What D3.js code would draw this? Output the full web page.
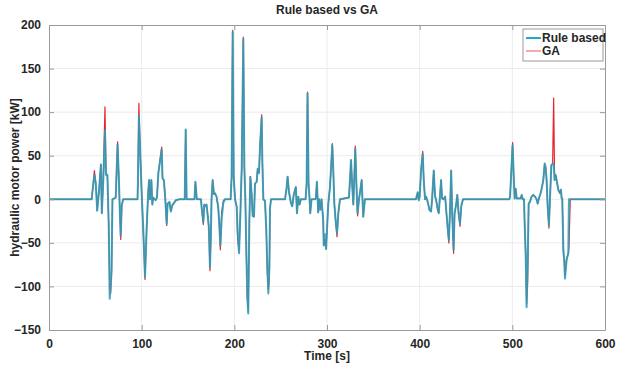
<!DOCTYPE html>
<html>
<head>
<meta charset="utf-8">
<script src="https://cdn.jsdelivr.net/npm/d3@7"></script>
<style>
  body { margin: 0; background: #fff; }
  text { font-family: "Liberation Sans", Arial, sans-serif; font-weight: bold; fill: #262626; }
</style>
</head>
<body>
<div id="chart"></div>
<script>
// Time axis [s] and the two power traces [kW]
let time = [0, 46, 47.5, 49, 50.5, 52, 54, 56, 57, 58.5, 60.4, 61.5, 63, 64.5, 65.5, 66.5, 67.5, 68, 68.5, 72,
    74, 75.5, 76.5, 77.4, 78.5, 80, 95.5, 96, 97, 98, 100, 101.8, 103.6, 105.4, 107, 108, 109, 110.5, 111.5, 112.5,
    115, 116.5, 118, 121.6, 122.5, 124, 125.5, 127, 128, 130, 131.5, 133, 137, 141, 146.5, 147.5, 148.5, 157, 158, 159.5,
    164, 164.7, 166.5, 167.6, 169, 170, 171, 172.5, 173.7, 174.7, 175.4, 176.6, 178, 179, 180.8, 182.6, 183.7, 184.9, 186.3, 188.1,
    189.9, 196, 197.1, 198.2, 199.3, 200.8, 202.6, 203.6, 205.1, 206.5, 208, 209.7, 210.8, 211.9, 213, 214, 215, 216.2, 217.3, 218.7,
    219.8, 221.2, 222.3, 224.1, 225.2, 226.6, 227.7, 229.5, 230.2, 231.3, 233.1, 234.5, 235.6, 236.7, 237.8, 238.5, 239.6, 254.7, 256.5, 257.5,
    258.9, 260, 261, 262.5, 263.9, 265.3, 266.4, 267.6, 269, 270.4, 271.8, 276.9, 278, 279, 280.1, 281.2, 281.9, 283.3, 286.9, 288,
    289.1, 290.5, 291.6, 292.7, 294.1, 295.9, 296.5, 297.8, 299, 300.5, 301.4, 303.2, 304.2, 305.7, 306.8, 307.9, 309.3, 310.8, 312.2, 314,
    323.7, 324.8, 325.9, 327.3, 328.4, 329.5, 330.5, 332, 333, 334.5, 335.9, 337.4, 339.1, 340.9, 396, 397.9, 399, 400, 401.5, 403.3,
    404.4, 405.8, 406.9, 408.7, 410.5, 412.3, 413.4, 415.2, 416.6, 417.7, 419.5, 420.6, 421.7, 423.1, 424.2, 425.7, 427.5, 428.9, 430.4, 431.5,
    432.9, 434, 435.1, 436.6, 437.7, 439.5, 440.6, 442, 443.5, 444.9, 446.7, 496.5, 497.5, 499.3, 500.3, 501.4, 502.5, 503.6, 504.7, 509,
    510.1, 511.2, 512.6, 513.3, 514.4, 515.4, 516.5, 517.6, 519, 520.8, 522.6, 524.4, 526.2, 527.3, 528.7, 530.5, 532, 533.4, 534.9, 535.9,
    537, 538.1, 539.5, 540.6, 542.1, 543.5, 544.6, 545.6, 546.7, 547.8, 549.6, 551.4, 552.5, 553.2, 553.9, 555, 556.1, 556.8, 558.6, 560.4,
    561.1, 562.5, 600];

let ruleBased = [0, 0, 15, 28, 18, -13, 10, 40, -16, 20, 79, 28, 28, -32, -114, -100, -83, -40, 0, 2,
    63, 20, -16, -42, -7, 0, 0, 20, 96, 68, 7, -36, -89, -33, 7, 22, 0, 22, -6, 2,
    -1, 2, 30, 57, 24, 22, 0, -28, -5, -3, -14, -7, -1, 0, 0, 80, 0, 0, 20, 0,
    0, -9, -26, -6, -8, -6, -16, -32, -78, -41, 0, 22, 6, 7, 3, -9, -27, -53, -23, -4,
    0, 0, 26, 192, 26, 0, -9, -39, -62, -17, 37, 184, 37, 0, -62, -112, -131, -26, 26, 5,
    -19, -20, 18, 20, 35, 30, 60, 94, 45, 0, -2, -36, -78, -108, -78, -10, 0, 0, 14, 26,
    9, 2, -4, -8, 4, 10, 14, -16, 3, -6, 0, 0, 18, 121, 18, 0, -16, 0, 0, 1,
    20, -15, 0, -12, 0, -24, -53, -40, -57, -24, -5, 14, 33, 62, 33, -5, -24, -39, -16, 0,
    2, 22, 45, 14, -6, 26, 58, 9, -16, 0, 10, 22, -20, 0, 0, 8, -1, 3, 33, 52,
    22, 0, 3, -3, -12, -14, 0, 33, 3, 0, -12, -16, 0, 22, 1, 0, 3, -16, -35, -47,
    -9, 33, -16, -58, -16, -5, 5, -16, -28, -8, 0, 0, 2, 41, 62, 29, 1, 12, 1, 1,
    5, 0, 0, -28, -62, -124, -78, -5, -3, 3, 5, 3, 0, -5, 1, 7, 14, 22, 41, 37,
    22, -8, -30, 0, 39, 41, 40, 22, 28, 22, 11, 7, 11, 1, 1, -56, -72, -91, -69, -62,
    0, 0, 0];

let ga = [0, 0, 15, 33, 18, -13, 10, 40, -16, 20, 106, 30, 28, -32, -101, -108, -83, -40, 0, 2,
    66, 20, -16, -46, -7, 0, 0, 20, 110, 68, 7, -40, -92, -33, 7, 22, 0, 22, -6, 2,
    -1, 2, 30, 60, 24, 22, 0, -30, -5, -3, -14, -7, -1, 0, 0, 80, 0, 0, 20, 0,
    0, -9, -29, -6, -8, -6, -16, -32, -82, -41, 0, 22, 6, 7, 3, -9, -27, -58, -15, -2,
    0, 0, 26, 194, 26, 0, -9, -45, -60, -17, 37, 186, 37, 0, -66, -112, -128, -26, 26, 5,
    -19, -20, 18, 20, 35, 30, 60, 97, 45, 0, -2, -36, -84, -104, -90, -10, 0, 0, 14, 26,
    9, 2, -4, -8, 4, 10, 14, -16, 3, -6, 0, 0, 18, 123, 18, 0, -16, 0, 0, 1,
    20, -15, 0, -12, 0, -24, -53, -46, -57, -24, -5, 14, 33, 64, 33, -5, -24, -43, -16, 0,
    2, 22, 45, 14, -6, 26, 61, 9, -19, 0, 10, 22, -20, 0, 0, 8, -1, 3, 33, 55,
    22, 0, 3, -3, -12, -14, 0, 33, 3, 0, -12, -16, 0, 22, 1, 0, 3, -16, -35, -50,
    -9, 33, -16, -62, -16, -5, 5, -16, -31, -8, 0, 0, 2, 41, 65, 29, 1, 12, 1, 1,
    5, 0, 0, -28, -66, -120, -95, -5, -3, 3, 5, 3, 0, -5, 1, 7, 14, 22, 41, 37,
    22, -8, -33, 0, 39, 41, 116, 22, 28, 22, 11, 7, 11, 1, 1, -60, -72, -88, -69, -62,
    -55, 0, 0];

let xTicks = [0, 100, 200, 300, 400, 500, 600];
let yTicks = [-150, -100, -50, 0, 50, 100, 150, 200];
let seriesNames = ["Rule based", "GA"];

// size of the page and the plot box
let svgWidth = 618;
let svgHeight = 367;
let margin = { top: 25, right: 13, bottom: 37, left: 49 };
let width = svgWidth - margin.left - margin.right;
let height = svgHeight - margin.top - margin.bottom;

let rbColor = "#2a9fbb";
let gaColor = "#e8232d";

let svg = d3.select("#chart")
    .append("svg")
    .attr("width", svgWidth)
    .attr("height", svgHeight);

let chartGroup = svg.append("g")
    .attr("transform", `translate(${margin.left}, ${margin.top})`);

let xScale = d3.scaleLinear().domain([0, 600]).range([0, width]);
let yScale = d3.scaleLinear().domain([-150, 200]).range([height, 0]);

// grid lines
chartGroup.append("g")
    .selectAll("line")
    .data(xTicks.slice(1, -1))
    .enter()
    .append("line")
    .attr("x1", d => xScale(d)).attr("x2", d => xScale(d))
    .attr("y1", 0).attr("y2", height)
    .attr("stroke", "#ebebeb");

chartGroup.append("g")
    .selectAll("line")
    .data(yTicks.slice(1, -1))
    .enter()
    .append("line")
    .attr("x1", 0).attr("x2", width)
    .attr("y1", d => yScale(d)).attr("y2", d => yScale(d))
    .attr("stroke", "#ebebeb");

// the traces: GA underneath, rule based on top
let points = time.map((t, i) => ({ t: t, rb: ruleBased[i], ga: ga[i] }));

let gaLine = d3.line().x(d => xScale(d.t)).y(d => yScale(d.ga));
let rbLine = d3.line().x(d => xScale(d.t)).y(d => yScale(d.rb));

chartGroup.append("path")
    .datum(points)
    .attr("d", gaLine)
    .attr("fill", "none")
    .attr("stroke", gaColor)
    .attr("stroke-width", 1.2)
    .attr("stroke-linejoin", "round");

chartGroup.append("path")
    .datum(points)
    .attr("d", rbLine)
    .attr("fill", "none")
    .attr("stroke", rbColor)
    .attr("stroke-width", 2)
    .attr("stroke-opacity", 0.88)
    .attr("stroke-linejoin", "round");

// axes, MATLAB style: ticks pointing inwards, box all round
let bottomAxis = d3.axisBottom(xScale).tickValues(xTicks).tickSizeInner(-5).tickSizeOuter(0).tickPadding(9);
let leftAxis = d3.axisLeft(yScale).tickValues(yTicks).tickSizeInner(-5).tickSizeOuter(0).tickPadding(8);
let topAxis = d3.axisTop(xScale).tickValues(xTicks).tickSizeInner(-5).tickSizeOuter(0).tickFormat("");
let rightAxis = d3.axisRight(yScale).tickValues(yTicks).tickSizeInner(-5).tickSizeOuter(0).tickFormat("");

let xAxis = chartGroup.append("g")
    .attr("transform", `translate(0, ${height})`)
    .call(bottomAxis);
let yAxis = chartGroup.append("g").call(leftAxis);
let tAxis = chartGroup.append("g").call(topAxis);
let rAxis = chartGroup.append("g")
    .attr("transform", `translate(${width}, 0)`)
    .call(rightAxis);

[xAxis, yAxis, tAxis, rAxis].forEach(function(ax) {
    ax.selectAll("path, line").attr("stroke", "#9a9a9a");
    ax.selectAll("text")
        .style("font-size", "12px")
        .style("font-family", "'Liberation Sans', Arial, sans-serif")
        .style("font-weight", "bold")
        .attr("fill", "#262626");
});

// title and axis labels
svg.append("text")
    .attr("x", margin.left + width / 2)
    .attr("y", 14)
    .attr("text-anchor", "middle")
    .style("font-size", "12px")
    .text("Rule based vs GA");

svg.append("text")
    .attr("x", margin.left + width / 2)
    .attr("y", 360)
    .attr("text-anchor", "middle")
    .style("font-size", "12px")
    .text("Time [s]");

svg.append("text")
    .attr("transform", "rotate(-90)")
    .attr("x", -(margin.top + height / 2))
    .attr("y", 19)
    .attr("text-anchor", "middle")
    .style("font-size", "12px")
    .text("hydraulic motor power [kW]");

// legend
let legend = svg.append("g")
    .attr("transform", "translate(523, 29)");

legend.append("rect")
    .attr("width", 80)
    .attr("height", 32)
    .attr("fill", "#fff")
    .attr("stroke", "#9a9a9a");

let legendColors = ["#1fa8d2", "#f07078"];
let legendWidths = [2, 1.2];

seriesNames.forEach(function(name, i) {
    legend.append("line")
        .attr("x1", 3).attr("x2", 18)
        .attr("y1", 9 + i * 13).attr("y2", 9 + i * 13)
        .attr("stroke", legendColors[i])
        .attr("stroke-width", legendWidths[i]);
    legend.append("text")
        .attr("x", 19)
        .attr("y", 13 + i * 13)
        .style("font-size", "12px")
        .text(name);
});
</script>
</body>
</html>
